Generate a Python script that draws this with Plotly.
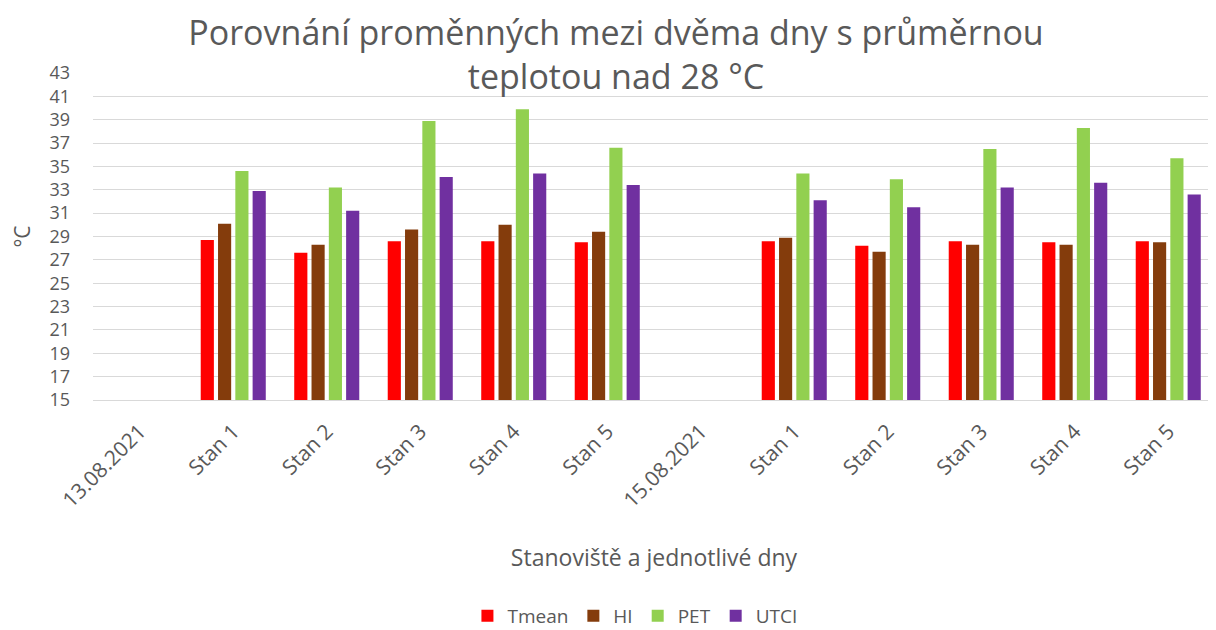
import plotly.graph_objects as go

categories = ["13.08.2021", "Stan 1", "Stan 2", "Stan 3", "Stan 4", "Stan 5",
              "15.08.2021", "Stan 1", "Stan 2", "Stan 3", "Stan 4", "Stan 5"]
cat_ids = ["d1", "d1s1", "d1s2", "d1s3", "d1s4", "d1s5",
           "d2", "d2s1", "d2s2", "d2s3", "d2s4", "d2s5"]

tmean = [None, 28.7, 27.6, 28.6, 28.6, 28.5, None, 28.6, 28.2, 28.6, 28.5, 28.6]
hi    = [None, 30.1, 28.3, 29.6, 30.0, 29.4, None, 28.9, 27.7, 28.3, 28.3, 28.5]
pet   = [None, 34.6, 33.2, 38.9, 39.9, 36.6, None, 34.4, 33.9, 36.5, 38.3, 35.7]
utci  = [None, 32.9, 31.2, 34.1, 34.4, 33.4, None, 32.1, 31.5, 33.2, 33.6, 32.6]

series_names = ["Tmean", "HI", "PET", "UTCI"]
series_vals = [tmean, hi, pet, utci]
colors = ["#FF0000", "#843C0C", "#92D050", "#7030A0"]

AXIS_MIN = 15
FONT = "Open Sans"
GRAY = "#595959"

fig = go.Figure()
for name, vals, col in zip(series_names, series_vals, colors):
    fig.add_trace(go.Bar(
        x=cat_ids,
        y=[None if v is None else v - AXIS_MIN for v in vals],
        base=AXIS_MIN,
        customdata=vals,
        hovertemplate="%{customdata}<extra>" + name + "</extra>",
        name=name,
        marker=dict(color=col, line=dict(width=0)),
    ))

fig.update_layout(
    width=1216, height=630,
    paper_bgcolor="white", plot_bgcolor="white",
    barmode="group", bargap=0.26, bargroupgap=0.24,
    margin=dict(l=85, r=9, t=65, b=238, autoexpand=False),
    title=dict(text="Porovnání proměnných mezi dvěma dny s průměrnou<br>teplotou nad 28 °C",
               x=0.50, xanchor="center", y=0.942, yanchor="middle",
               font=dict(family=FONT, size=34, color=GRAY)),
    font=dict(family=FONT, color=GRAY),
    legend=dict(orientation="h", x=0.483, xanchor="center", y=-0.66, yanchor="middle",
                font=dict(family=FONT, size=19, color=GRAY), traceorder="normal",
                itemwidth=30),
    showlegend=True,
)
fig.update_xaxes(
    type="category", categoryorder="array", categoryarray=cat_ids,
    tickmode="array", tickvals=cat_ids, ticktext=categories,
    tickangle=-45, tickfont=dict(family=FONT, size=21, color=GRAY),
    ticklabelstandoff=10, automargin=False,
    showgrid=False, showline=True, linecolor="#d9d9d9", linewidth=1,
    ticks="", title=dict(text="Stanoviště a jednotlivé dny", standoff=37,
                         font=dict(family=FONT, size=23, color=GRAY)),
)
fig.update_yaxes(
    range=[15, 43], tickmode="linear", tick0=15, dtick=2,
    tickfont=dict(family=FONT, size=18, color=GRAY),
    showgrid=True, gridcolor="#d9d9d9", gridwidth=1, automargin=False,
    zeroline=False, ticks="", ticklabelstandoff=22,
    title=dict(text="°C", standoff=14, font=dict(family=FONT, size=21, color=GRAY)),
)
fig.write_html("out.html")
